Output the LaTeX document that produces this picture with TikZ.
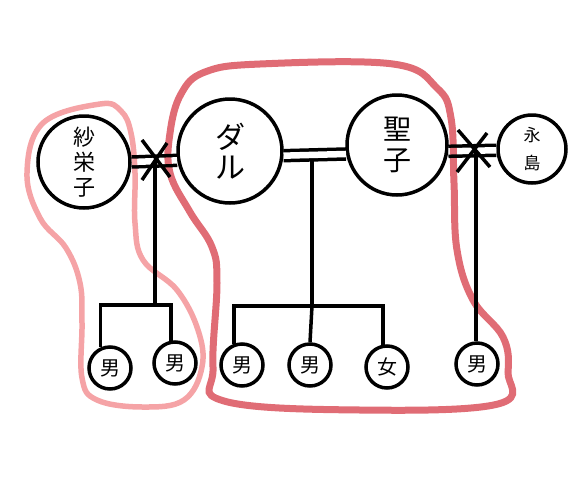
\documentclass[tikz,border=0pt]{standalone}
\usepackage{fontspec}
\newfontfamily\jpfont{Noto Sans CJK JP}
\usetikzlibrary{calc}
\definecolor{lightblob}{HTML}{F5A3A6}
\definecolor{darkblob}{HTML}{E06C75}

\begin{document}
\begin{tikzpicture}[
  x=1pt,y=-1pt,
  person/.style={circle,draw,line width=3.5pt,inner sep=0pt,align=center},
  kid/.style={circle,draw,line width=3.5pt,minimum size=42pt,inner sep=0pt,
              font=\jpfont\fontsize{20}{20}\selectfont},
  tie/.style={line width=3.5pt,double,double distance=6.5pt},
  link/.style={line width=3.5pt},
  cross/.style={line width=3.5pt},
  blob/.style={line width=#1,smooth cycle,tension=0.65},
]
\useasboundingbox (0,0) rectangle (586,501);

% === Parents ===
\node[person,minimum size=92pt,font=\jpfont\fontsize{22}{25}\selectfont]
  (saeko) at (84,162) {紗\\栄\\子};
\node[person,minimum size=104pt,font=\jpfont\fontsize{30}{30}\selectfont]
  (dal) at (230,151) {ダ\\ル};
\node[person,minimum size=100pt,font=\jpfont\fontsize{28}{31}\selectfont]
  (seiko) at (397,145) {聖\\子};
\node[person,minimum size=68pt,font=\jpfont\fontsize{17}{28}\selectfont]
  (naga) at (532,149) {永\\島};

% === Children ===
\node[kid] (c1) at (110,368) {男};
\node[kid] (c2) at (175,363) {男};
\node[kid] (c3) at (242,365) {男};
\node[kid] (c4) at (310,365) {男};
\node[kid] (c5) at (387,367) {女};
\node[kid] (c6) at (477,364) {男};

% === Marriages ===
\draw[tie] (saeko.east) -- (dal.190);
\draw[tie] (dal.-5) -- (seiko.-170);
\draw[tie] (seiko.-7) -- (naga.182);

\coordinate (m1) at (155,161);
\coordinate (m2) at (312,159);
\coordinate (m3) at (476,151);
\coordinate (bar1) at (155,305);
\coordinate (bar2) at (312,306);

% divorced: X over the line
\draw[cross] ($(m1)+(-13,-21)$) -- ($(m1)+(15,16)$);
\draw[cross] ($(m1)+(12,-18)$) -- ($(m1)+(-13,19)$);
\draw[cross] ($(m3)+(-18,-21)$) -- ($(m3)+(14,16)$);
\draw[cross] ($(m3)+(11,-18)$) -- ($(m3)+(-19,21)$);

% === Descent lines ===
\draw[link] (m1) -- (bar1);
\draw[link] (c1.115) |- (bar1) -| (c2.100);
\draw[link] (m2) -- (bar2);
\draw[link] (c3.110) |- (bar2) -| (c5.100);
\draw[link] (bar2) -- (c4.north);
\draw[link] (m3) -- (m3 |- c6.north);

% === Highlight loops ===
\begin{scope}[blend mode=multiply]
\draw[lightblob,blob=5.5pt] plot coordinates {
  (100,104) (121,111) (131,133) (135,173) (135,223) (143,260) (177,290)
  (198,330) (202,367) (184,400) (143,407) (97,400) (82,378) (82,323)
  (80,283) (66,248) (40,218) (27,173) (43,123)};
\draw[darkblob,blob=7pt] plot coordinates {
  (260,64) (393,64) (437,88) (451,118) (454,183) (457,250) (473,300)
  (503,337) (508,372) (498,404) (360,410) (224,401) (213,367) (217,283)
  (212,247) (190,212) (170,173) (170,133) (181,94) (205,72)};
\end{scope}

\end{tikzpicture}
\end{document}
